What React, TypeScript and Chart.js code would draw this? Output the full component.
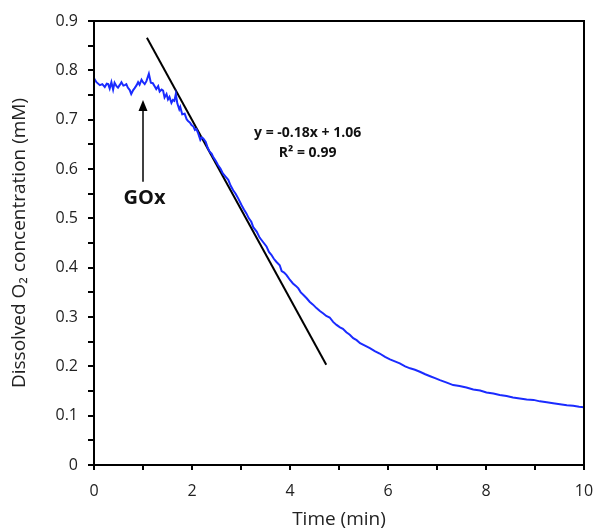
import React, { useEffect, useRef } from "react";
import { Chart, registerables } from "chart.js";

Chart.register(...registerables);

const timeMin = [
  0.0, 0.05, 0.12, 0.17, 0.22, 0.26, 0.29, 0.32, 0.355, 0.39, 0.42, 0.46, 0.49, 0.53, 0.56, 0.6, 0.63, 0.66, 0.69, 0.73,
  0.76, 0.8, 0.83, 0.87, 0.9, 0.93, 0.97, 1.0, 1.035, 1.07, 1.12, 1.16, 1.2, 1.24, 1.27, 1.31, 1.34, 1.38, 1.41, 1.44,
  1.48, 1.51, 1.54, 1.58, 1.61, 1.64, 1.67, 1.7, 1.74, 1.76, 1.8, 1.85, 1.89, 1.92, 1.96, 1.99, 2.03, 2.06, 2.09, 2.12,
  2.17, 2.2, 2.23, 2.28, 2.32, 2.36, 2.4, 2.43, 2.48, 2.53, 2.58, 2.63, 2.68, 2.74, 2.79, 2.84, 2.89, 2.94, 3.01, 3.06,
  3.11, 3.16, 3.21, 3.25, 3.32, 3.38, 3.45, 3.52, 3.57, 3.62, 3.67, 3.72, 3.79, 3.83, 3.88, 3.93, 4.0, 4.06, 4.12, 4.17,
  4.22, 4.27, 4.34, 4.4, 4.47, 4.54, 4.61, 4.68, 4.74, 4.81, 4.88, 4.95, 5.02, 5.08, 5.15, 5.22, 5.29, 5.36, 5.43, 5.53,
  5.63, 5.73, 5.83, 5.94, 6.04, 6.14, 6.24, 6.35, 6.45, 6.55, 6.65, 6.76, 6.86, 6.96, 7.06, 7.2, 7.33, 7.46, 7.6, 7.74,
  7.88, 8.01, 8.15, 8.28, 8.42, 8.55, 8.69, 8.83, 8.97, 9.1, 9.24, 9.37, 9.51, 9.65, 9.78, 9.9, 10.0,
];

const dissolvedO2 = [
  0.784, 0.776, 0.77, 0.772, 0.766, 0.773, 0.772, 0.763, 0.776, 0.761, 0.775, 0.768, 0.765, 0.771, 0.776, 0.769, 0.77, 0.772, 0.765, 0.76,
  0.752, 0.76, 0.764, 0.77, 0.776, 0.771, 0.781, 0.776, 0.772, 0.778, 0.793, 0.775, 0.774, 0.767, 0.762, 0.768, 0.757, 0.761, 0.759, 0.745,
  0.752, 0.741, 0.746, 0.734, 0.74, 0.738, 0.752, 0.733, 0.721, 0.726, 0.711, 0.712, 0.701, 0.697, 0.694, 0.689, 0.686, 0.679, 0.681, 0.674,
  0.659, 0.664, 0.662, 0.655, 0.643, 0.635, 0.631, 0.625, 0.617, 0.608, 0.601, 0.591, 0.585, 0.578, 0.566, 0.557, 0.55, 0.541, 0.527, 0.518,
  0.51, 0.5, 0.493, 0.482, 0.473, 0.461, 0.452, 0.443, 0.432, 0.426, 0.418, 0.412, 0.405, 0.393, 0.39, 0.385, 0.375, 0.368, 0.363, 0.358,
  0.35, 0.345, 0.338, 0.331, 0.325, 0.318, 0.312, 0.307, 0.302, 0.299, 0.29, 0.284, 0.279, 0.276, 0.269, 0.264, 0.257, 0.253, 0.247, 0.242,
  0.237, 0.231, 0.226, 0.219, 0.214, 0.21, 0.206, 0.2, 0.196, 0.193, 0.189, 0.184, 0.18, 0.176, 0.172, 0.167, 0.162, 0.16, 0.157, 0.153,
  0.151, 0.147, 0.145, 0.142, 0.14, 0.137, 0.135, 0.133, 0.132, 0.129, 0.127, 0.125, 0.123, 0.121, 0.12, 0.118, 0.117,
];

const fitX = [1.08, 4.74];
const fitY = [0.866, 0.203];

const arrowX = 1.0;
const arrowYTail = 0.574;
const arrowYTip = 0.74;
const arrowLabel = "GOx";
const arrowLabelPos = [1.03, 0.54];

const equationLines = ["y = -0.18x + 1.06", "R² = 0.99"];
const equationPos = [4.36, 0.673, 0.632];

const xTitle = "Time (min)";
const yTitle = "Dissolved O₂ concentration (mM)";

const FONT = "'Open Sans', 'DejaVu Sans', sans-serif";

const annotationPlugin = {
  id: "annotations",
  afterDatasetsDraw(chart: any) {
    const { ctx, chartArea, scales } = chart;
    const xs = scales.x;
    const ys = scales.y;
    ctx.save();
    ctx.strokeStyle = "#000";
    ctx.lineWidth = 2;
    ctx.strokeRect(chartArea.left, chartArea.top, chartArea.right - chartArea.left, chartArea.bottom - chartArea.top);

    const ax = xs.getPixelForValue(arrowX);
    const ay0 = ys.getPixelForValue(arrowYTail);
    const ay1 = ys.getPixelForValue(arrowYTip);
    ctx.strokeStyle = "#000";
    ctx.lineWidth = 1.5;
    ctx.beginPath();
    ctx.moveTo(ax, ay0);
    ctx.lineTo(ax, ay1 + 8);
    ctx.stroke();
    ctx.fillStyle = "#000";
    ctx.beginPath();
    ctx.moveTo(ax, ay1);
    ctx.lineTo(ax - 4.5, ay1 + 11);
    ctx.lineTo(ax + 4.5, ay1 + 11);
    ctx.closePath();
    ctx.fill();

    ctx.font = `bold 20px ${FONT}`;
    ctx.textAlign = "center";
    ctx.textBaseline = "middle";
    ctx.fillStyle = "#111";
    ctx.fillText(arrowLabel, xs.getPixelForValue(arrowLabelPos[0]), ys.getPixelForValue(arrowLabelPos[1]));

    ctx.font = `bold 14px ${FONT}`;
    const ex = xs.getPixelForValue(equationPos[0]);
    ctx.fillText(equationLines[0], ex, ys.getPixelForValue(equationPos[1]));
    ctx.fillText(equationLines[1], ex, ys.getPixelForValue(equationPos[2]));
    ctx.restore();
  },
};

export default function App() {
  const canvasRef = useRef<HTMLCanvasElement | null>(null);

  useEffect(() => {
    document.body.style.margin = "0";
    const canvas = canvasRef.current;
    if (!canvas) return;
    const chart = new Chart(canvas, {
      type: "scatter",
      data: {
        datasets: [
          {
            label: "O2",
            data: timeMin.map((t, i) => ({ x: t, y: dissolvedO2[i] })),
            showLine: true,
            borderColor: "#1a2bff",
            borderWidth: 2,
            pointRadius: 0,
            tension: 0,
          },
          {
            label: "fit",
            data: fitX.map((t, i) => ({ x: t, y: fitY[i] })),
            showLine: true,
            borderColor: "#000",
            borderWidth: 2,
            pointRadius: 0,
          },
        ],
      },
      options: {
        responsive: false,
        animation: false,
        devicePixelRatio: 1,
        layout: { padding: { left: 0, right: 0, top: 21, bottom: 0 } },
        plugins: { legend: { display: false }, tooltip: { enabled: false } },
        scales: {
          x: {
            type: "linear",
            min: 0,
            max: 10,
            border: { display: true, color: "#000", width: 2 },
            grid: { display: true, drawOnChartArea: false, drawTicks: true, tickLength: 5, color: "#000", lineWidth: 2 },
            ticks: {
              stepSize: 1,
              padding: 12,
              color: "#222",
              font: { family: FONT, size: 16 },
              callback: (v: any) => (Math.round(v) % 2 === 0 ? String(Math.round(v)) : ""),
            },
            title: { display: true, text: xTitle, color: "#222", font: { family: FONT, size: 19 }, padding: { top: 7, bottom: 0 } },
            afterFit: (s: any) => {
              s.height = 66;
              s.paddingRight = 10;
              s.paddingLeft = 0;
            },
          },
          y: {
            type: "linear",
            min: 0,
            max: 0.9,
            border: { display: true, color: "#000", width: 2 },
            grid: { display: true, drawOnChartArea: false, drawTicks: true, tickLength: 6, color: "#000", lineWidth: 2 },
            ticks: {
              stepSize: 0.05,
              padding: 10,
              color: "#222",
              font: { family: FONT, size: 16 },
              callback: (v: any) => {
                const k = Math.round(v * 100);
                if (k % 10 !== 0) return "";
                return k === 0 ? "0" : (k / 100).toFixed(1);
              },
            },
            title: { display: true, text: yTitle, color: "#222", font: { family: FONT, size: 19 }, padding: { top: 8, bottom: 4 } },
            afterFit: (s: any) => {
              s.width = 94;
            },
          },
        },
      },
      plugins: [annotationPlugin],
    });
    return () => chart.destroy();
  }, []);

  return (
    <div style={{ position: "absolute", left: 0, top: 0, width: 594, height: 531, background: "#fff" }}>
      <canvas ref={canvasRef} width={594} height={531} style={{ width: 594, height: 531 }} />
    </div>
  );
}
